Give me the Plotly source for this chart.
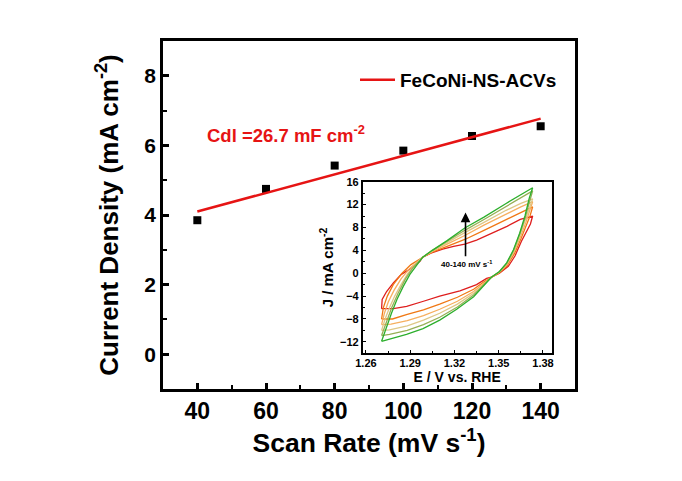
import plotly.graph_objects as go

# ---------------- main data ----------------
scan_rate = [40, 60, 80, 100, 120, 140]
current_density = [3.85, 4.75, 5.42, 5.85, 6.27, 6.55]
fit_x = [40, 140]
fit_y = [4.10, 6.77]
legend_name = "FeCoNi-NS-ACVs"
cdl_text = "Cdl =26.7 mF cm<sup>-2</sup>"

# ---------------- inset CV data (E / V vs RHE, J / mA cm-2) ----------------
cv_E_40 = [1.2706, 1.2710, 1.2740, 1.2786, 1.2840, 1.2910, 1.2966, 1.2985,
           1.3040, 1.3120, 1.3194, 1.3270, 1.3350, 1.3420, 1.3556, 1.3646, 1.3730,
           1.3715, 1.3695, 1.3654, 1.3610, 1.3565, 1.3505, 1.3450,
           1.3418, 1.3350, 1.3237, 1.3100, 1.2990, 1.2876, 1.2786, 1.2706]
cv_J_40 = [-6.2, -4.6, -3.2, -1.7, -0.2, 0.9, 2.1, 2.8,
           3.5, 4.2, 4.7, 5.1, 5.8, 6.6, 8.2, 9.4, 10.0,
           8.6, 7.6, 5.6, 3.0, 1.2, 0.0, -0.7,
           -0.9, -2.0, -3.1, -4.0, -4.9, -5.8, -6.2, -6.2]

cv_E_60 = [1.2706, 1.2718, 1.2745, 1.2785, 1.2845, 1.2905, 1.2985,
           1.3050, 1.3150, 1.3270, 1.3400, 1.3550, 1.3650, 1.3730,
           1.3712, 1.3685, 1.3650, 1.3608, 1.3560, 1.3505, 1.3450,
           1.3400, 1.3330, 1.3220, 1.3100, 1.2990, 1.2880, 1.2780, 1.2706]
cv_J_60 = [-8.0, -6.0, -4.0, -2.0, 0.0, 1.5, 2.8,
           3.7, 4.7, 5.9, 7.5, 9.4, 10.7, 11.6,
           10.0, 8.2, 6.0, 3.5, 1.4, 0.1, -0.7,
           -1.5, -2.8, -4.2, -5.4, -6.4, -7.2, -8.0, -8.0]

cv_E_80 = [1.2706, 1.2725, 1.2752, 1.2790, 1.2838, 1.2895, 1.2985,
           1.3050, 1.3150, 1.3270, 1.3400, 1.3550, 1.3650, 1.3730,
           1.3710, 1.3683, 1.3648, 1.3605, 1.3558, 1.3505, 1.3450,
           1.3400, 1.3330, 1.3220, 1.3100, 1.2990, 1.2880, 1.2770, 1.2706]
cv_J_80 = [-9.0, -7.0, -5.0, -3.0, -1.0, 0.8, 2.8,
           3.8, 5.1, 6.6, 8.4, 10.4, 11.6, 12.5,
           10.8, 8.8, 6.4, 3.8, 1.6, 0.2, -0.7,
           -1.8, -3.2, -4.9, -6.3, -7.4, -8.3, -8.9, -9.0]

cv_E_100 = [1.2706, 1.2730, 1.2760, 1.2795, 1.2838, 1.2885, 1.2950, 1.2985,
            1.3050, 1.3150, 1.3270, 1.3400, 1.3550, 1.3650, 1.3730,
            1.3709, 1.3680, 1.3645, 1.3603, 1.3556, 1.3505, 1.3450,
            1.3400, 1.3330, 1.3220, 1.3100, 1.2990, 1.2880, 1.2760, 1.2706]
cv_J_100 = [-10.0, -8.0, -6.0, -4.0, -2.0, 0.0, 2.0, 2.8,
            3.9, 5.4, 7.1, 8.9, 11.0, 12.2, 13.0,
            11.5, 9.3, 6.7, 3.9, 1.7, 0.2, -0.7,
            -2.0, -3.5, -5.4, -7.0, -8.2, -9.2, -9.9, -10.0]

cv_E_120 = [1.2706, 1.2738, 1.2775, 1.2818, 1.2868, 1.2920, 1.2985,
            1.3050, 1.3150, 1.3270, 1.3400, 1.3550, 1.3650, 1.3730,
            1.3708, 1.3679, 1.3643, 1.3601, 1.3555, 1.3505, 1.3450,
            1.3390, 1.3330, 1.3220, 1.3100, 1.2990, 1.2880, 1.2760, 1.2706]
cv_J_120 = [-10.9, -8.5, -6.0, -3.5, -1.0, 1.0, 2.8,
            4.0, 5.6, 7.5, 9.4, 11.7, 13.2, 14.4,
            12.4, 9.7, 6.9, 4.0, 1.75, 0.25, -0.7,
            -2.2, -3.8, -5.9, -7.7, -9.0, -10.0, -10.7, -10.9]

cv_E_140 = [1.2706, 1.2740, 1.2773, 1.2810, 1.2853, 1.2898, 1.2955, 1.2985,
            1.3050, 1.3150, 1.3270, 1.3400, 1.3550, 1.3650, 1.3730,
            1.3707, 1.3678, 1.3642, 1.3600, 1.3554, 1.3505, 1.3450,
            1.3390, 1.3330, 1.3215, 1.3100, 1.2987, 1.2875, 1.2706]
cv_J_140 = [-11.9, -9.3, -7.0, -4.6, -2.3, -0.2, 1.8, 2.8,
            4.0, 5.7, 7.9, 9.8, 12.2, 13.7, 14.95,
            13.1, 10.0, 7.0, 4.1, 1.8, 0.3, -0.7,
            -2.4, -4.1, -6.3, -8.2, -9.7, -10.7, -11.9]

cv_rates = ["40", "60", "80", "100", "120", "140"]
cv_colors = ["rgb(222,30,30)", "rgb(240,120,20)", "rgb(246,175,95)",
             "rgb(222,200,135)", "rgb(150,175,85)", "rgb(45,175,45)"]
cv_E = [cv_E_40, cv_E_60, cv_E_80, cv_E_100, cv_E_120, cv_E_140]
cv_J = [cv_J_40, cv_J_60, cv_J_80, cv_J_100, cv_J_120, cv_J_140]

arrow_E = 1.3275
arrow_J = [2.7, 10.6]
arrow_label = "40-140 mV s<sup>-1</sup>"

FONT = "Arial, 'Liberation Sans', sans-serif"

W, H = 682, 481
L, R, T, B = 163, 107, 41, 92
pw, ph = W - L - R, H - T - B

fig = go.Figure()

# main scatter
fig.add_trace(go.Scatter(
    x=scan_rate, y=current_density, mode="markers",
    marker=dict(symbol="square", size=8, color="black"),
    showlegend=False, xaxis="x", yaxis="y"))
# fit line
fig.add_trace(go.Scatter(
    x=fit_x, y=fit_y, mode="lines", name=legend_name,
    line=dict(color="rgb(230,20,20)", width=2.5),
    showlegend=True, xaxis="x", yaxis="y"))

# inset curves
for E, J, c, r in zip(cv_E, cv_J, cv_colors, cv_rates):
    fig.add_trace(go.Scatter(
        x=E, y=J, mode="lines", line=dict(color=c, width=1.3),
        showlegend=False, xaxis="x2", yaxis="y2", name=r + " mV/s"))

# arrow in inset
fig.add_annotation(
    x=arrow_E, y=arrow_J[1], ax=arrow_E, ay=arrow_J[0],
    xref="x2", yref="y2", axref="x2", ayref="y2",
    showarrow=True, arrowhead=2, arrowsize=1.2, arrowwidth=1.6,
    arrowcolor="black", text="")
fig.add_annotation(
    x=arrow_E + 0.001, y=1.65, xref="x2", yref="y2", text=arrow_label,
    showarrow=False, font=dict(family=FONT, size=8, color="black", weight="bold"))

# Cdl annotation (placed in paper coordinates)
fig.add_annotation(
    x=(205 - L) / pw, y=(H - B - 134) / ph, xref="paper", yref="paper",
    text=cdl_text, showarrow=False, xanchor="left", yanchor="middle",
    font=dict(family=FONT, size=18.5, color="rgb(230,20,20)", weight="bold"))

axis_common = dict(showline=True, linecolor="black", mirror=True,
                   ticks="inside", tickcolor="black", showgrid=False,
                   zeroline=False)

fig.update_layout(
    width=W, height=H,
    margin=dict(l=L, r=R, t=T, b=B),
    paper_bgcolor="white", plot_bgcolor="white",
    font=dict(family=FONT, color="black"),
    xaxis=dict(range=[30, 150], tickvals=[40, 60, 80, 100, 120, 140],
               linewidth=2.5, tickwidth=2.5, ticklen=6,
               minor=dict(tickvals=[50, 70, 90, 110, 130, 150], ticklen=4,
                          tickwidth=2, ticks="inside", tickcolor="black"),
               tickfont=dict(size=23, weight="bold"),
               title=dict(text="Scan Rate (mV s<sup>-1</sup>)", standoff=6,
                          font=dict(size=26.5, weight="bold")),
               **axis_common),
    yaxis=dict(range=[-1, 9], tickvals=[0, 2, 4, 6, 8],
               linewidth=2.5, tickwidth=2.5, ticklen=6,
               minor=dict(tickvals=[1, 3, 5, 7], ticklen=4,
                          tickwidth=2, ticks="inside", tickcolor="black"),
               tickfont=dict(size=21, weight="bold"),
               title=dict(text="Current Density (mA cm<sup>-2</sup>)", standoff=19,
                          font=dict(size=26, weight="bold")),
               **axis_common),
    xaxis2=dict(domain=[0.4847, 0.9434], anchor="y2", range=[1.2578, 1.3859],
                tickvals=[1.26, 1.29, 1.32, 1.35, 1.38],
                ticktext=["1.26", "1.29", "1.32", "1.35", "1.38"],
                linewidth=1.5, tickwidth=1.2, ticklen=4,
                ticklabelstandoff=-1,
                minor=dict(tickvals=[1.275, 1.305, 1.335, 1.365], ticklen=2.5,
                           tickwidth=1, ticks="inside", tickcolor="black"),
                tickfont=dict(size=11, weight="bold"),
                title=dict(text="E / V vs. RHE", standoff=4,
                           font=dict(size=14, weight="bold")),
                **axis_common),
    yaxis2=dict(domain=[0.1026, 0.5957], anchor="x2", range=[-14, 16],
                tickvals=[-12, -8, -4, 0, 4, 8, 12, 16],
                linewidth=1.5, tickwidth=1.2, ticklen=4,
                minor=dict(tickvals=[-10, -6, -2, 2, 6, 10, 14], ticklen=2.5,
                           tickwidth=1, ticks="inside", tickcolor="black"),
                tickfont=dict(size=11, weight="bold"),
                title=dict(text="J / mA cm<sup>-2</sup>", standoff=3,
                           font=dict(size=15, weight="bold")),
                **axis_common),
    legend=dict(x=(355 - L) / pw, y=(H - B - 80) / ph, xanchor="left",
                yanchor="middle", bgcolor="rgba(0,0,0,0)",
                font=dict(size=19, weight="bold", family=FONT),
                itemwidth=35),
)

fig.write_html("out.html")
